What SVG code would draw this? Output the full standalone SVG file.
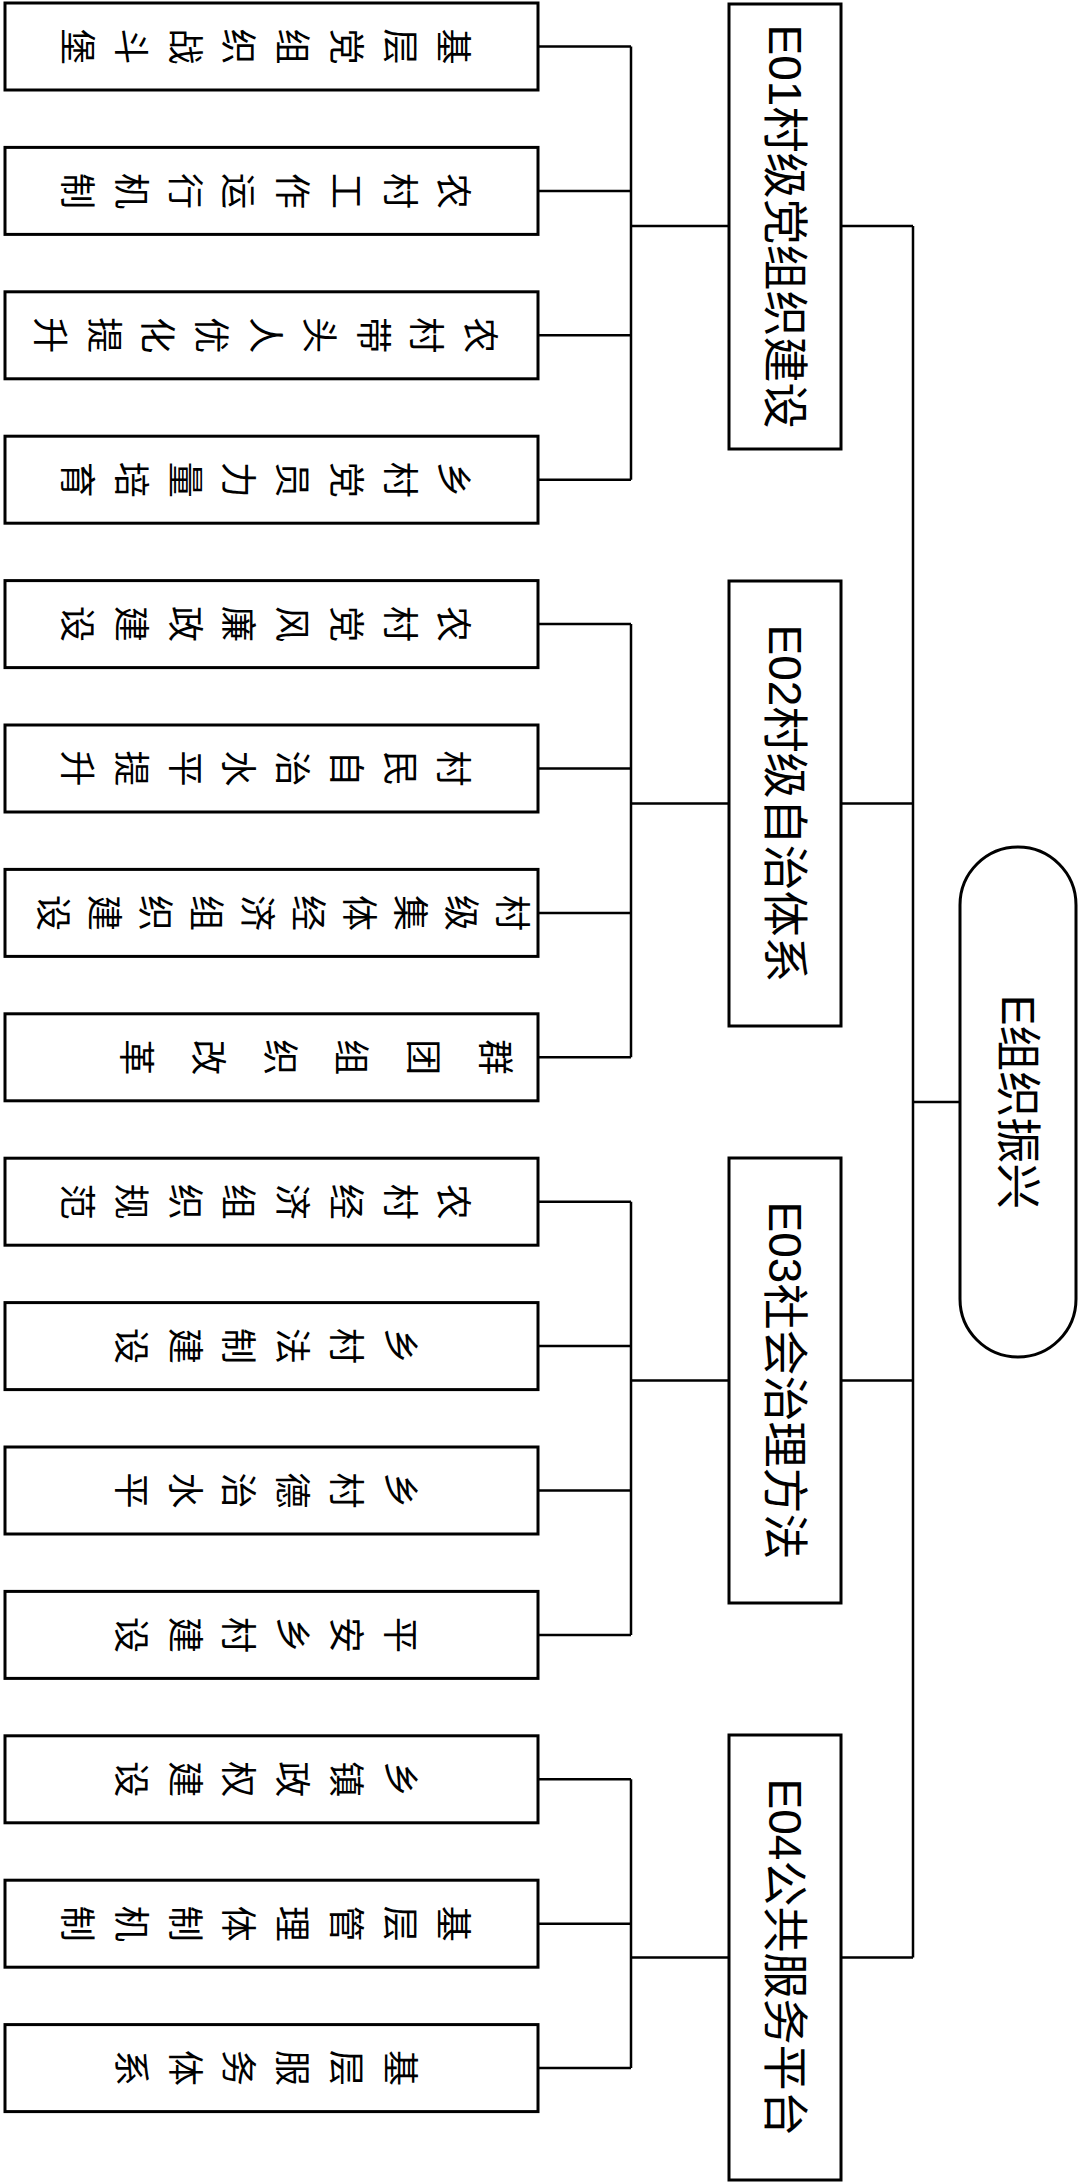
<svg xmlns="http://www.w3.org/2000/svg" width="1080" height="2183" viewBox="0 0 1080 2183">
<style>
.box{fill:#fff;stroke:#000;stroke-width:3}
.ln{fill:none;stroke:#000;stroke-width:2.5}
.lf{font-family:"Noto Sans CJK SC",sans-serif;font-size:36px;text-anchor:middle;dominant-baseline:central;fill:#000}
.md{font-family:"Liberation Sans","Noto Sans CJK SC",sans-serif;font-size:46px;text-anchor:middle;dominant-baseline:central;fill:#000}
</style>
<rect width="1080" height="2183" fill="#fff"/>
<g id="connectors" class="ln">
<path d="M913 226V1957.5M913 1102H960"/>
<path d="M841 226H913M841 803.5H913M841 1380.5H913M841 1957.5H913"/>
<path d="M631 226H729M631 803.5H729M631 1380.5H729M631 1957.5H729"/>
<path d="M631 46.5V479.7M631 624.1V1057.3M631 1201.7V1634.9M631 1779.3V2068.1"/>
<path d="M538 46.5H631M538 190.9H631M538 335.3H631M538 479.7H631M538 624.1H631M538 768.5H631M538 912.9H631M538 1057.3H631M538 1201.7H631M538 1346.1H631M538 1490.5H631M538 1634.9H631M538 1779.3H631M538 1923.7H631M538 2068.1H631"/>
</g>
<g id="n-root"><rect class="box" x="960" y="847" width="116" height="510" rx="58" ry="58"/><text class="md" transform="translate(1018 1102) rotate(90)">E组织振兴</text></g>
<g id="n-E01"><rect class="box" x="729" y="4" width="112" height="445"/><text class="md" transform="translate(785 226.5) rotate(90)">E01村级党组织建设</text></g>
<g id="n-E02"><rect class="box" x="729" y="581" width="112" height="445"/><text class="md" transform="translate(785 803.5) rotate(90)">E02村级自治体系</text></g>
<g id="n-E03"><rect class="box" x="729" y="1158" width="112" height="445"/><text class="md" transform="translate(785 1380.5) rotate(90)">E03社会治理方法</text></g>
<g id="n-E04"><rect class="box" x="729" y="1735" width="112" height="445"/><text class="md" transform="translate(785 1957.5) rotate(90)">E04公共服务平台</text></g>
<g id="n-L01"><rect class="box" x="5" y="3" width="533" height="87"/>
<text class="lf" x="456" y="46.5" transform="rotate(90 456 46.5)">基</text><text class="lf" x="402.5" y="46.5" transform="rotate(90 402.5 46.5)">层</text><text class="lf" x="349" y="46.5" transform="rotate(90 349 46.5)">党</text><text class="lf" x="295" y="46.5" transform="rotate(90 295 46.5)">组</text><text class="lf" x="241" y="46.5" transform="rotate(90 241 46.5)">织</text><text class="lf" x="187.5" y="46.5" transform="rotate(90 187.5 46.5)">战</text><text class="lf" x="133.5" y="46.5" transform="rotate(90 133.5 46.5)">斗</text><text class="lf" x="80" y="46.5" transform="rotate(90 80 46.5)">堡</text></g>
<g id="n-L02"><rect class="box" x="5" y="147.4" width="533" height="87"/>
<text class="lf" x="456" y="190.9" transform="rotate(90 456 190.9)">农</text><text class="lf" x="402.5" y="190.9" transform="rotate(90 402.5 190.9)">村</text><text class="lf" x="349" y="190.9" transform="rotate(90 349 190.9)">工</text><text class="lf" x="295" y="190.9" transform="rotate(90 295 190.9)">作</text><text class="lf" x="241" y="190.9" transform="rotate(90 241 190.9)">运</text><text class="lf" x="187.5" y="190.9" transform="rotate(90 187.5 190.9)">行</text><text class="lf" x="133.5" y="190.9" transform="rotate(90 133.5 190.9)">机</text><text class="lf" x="80" y="190.9" transform="rotate(90 80 190.9)">制</text></g>
<g id="n-L03"><rect class="box" x="5" y="291.8" width="533" height="87"/>
<text class="lf" x="483" y="335.3" transform="rotate(90 483 335.3)">农</text><text class="lf" x="429" y="335.3" transform="rotate(90 429 335.3)">村</text><text class="lf" x="376" y="335.3" transform="rotate(90 376 335.3)">带</text><text class="lf" x="322" y="335.3" transform="rotate(90 322 335.3)">头</text><text class="lf" x="268" y="335.3" transform="rotate(90 268 335.3)">人</text><text class="lf" x="214" y="335.3" transform="rotate(90 214 335.3)">优</text><text class="lf" x="160" y="335.3" transform="rotate(90 160 335.3)">化</text><text class="lf" x="107" y="335.3" transform="rotate(90 107 335.3)">提</text><text class="lf" x="53" y="335.3" transform="rotate(90 53 335.3)">升</text></g>
<g id="n-L04"><rect class="box" x="5" y="436.2" width="533" height="87"/>
<text class="lf" x="456" y="479.7" transform="rotate(90 456 479.7)">乡</text><text class="lf" x="402.5" y="479.7" transform="rotate(90 402.5 479.7)">村</text><text class="lf" x="349" y="479.7" transform="rotate(90 349 479.7)">党</text><text class="lf" x="295" y="479.7" transform="rotate(90 295 479.7)">员</text><text class="lf" x="241" y="479.7" transform="rotate(90 241 479.7)">力</text><text class="lf" x="187.5" y="479.7" transform="rotate(90 187.5 479.7)">量</text><text class="lf" x="133.5" y="479.7" transform="rotate(90 133.5 479.7)">培</text><text class="lf" x="80" y="479.7" transform="rotate(90 80 479.7)">育</text></g>
<g id="n-L05"><rect class="box" x="5" y="580.6" width="533" height="87"/>
<text class="lf" x="456" y="624.1" transform="rotate(90 456 624.1)">农</text><text class="lf" x="402.5" y="624.1" transform="rotate(90 402.5 624.1)">村</text><text class="lf" x="349" y="624.1" transform="rotate(90 349 624.1)">党</text><text class="lf" x="295" y="624.1" transform="rotate(90 295 624.1)">风</text><text class="lf" x="241" y="624.1" transform="rotate(90 241 624.1)">廉</text><text class="lf" x="187.5" y="624.1" transform="rotate(90 187.5 624.1)">政</text><text class="lf" x="133.5" y="624.1" transform="rotate(90 133.5 624.1)">建</text><text class="lf" x="80" y="624.1" transform="rotate(90 80 624.1)">设</text></g>
<g id="n-L06"><rect class="box" x="5" y="725" width="533" height="87"/>
<text class="lf" x="456" y="768.5" transform="rotate(90 456 768.5)">村</text><text class="lf" x="402.5" y="768.5" transform="rotate(90 402.5 768.5)">民</text><text class="lf" x="349" y="768.5" transform="rotate(90 349 768.5)">自</text><text class="lf" x="295" y="768.5" transform="rotate(90 295 768.5)">治</text><text class="lf" x="241" y="768.5" transform="rotate(90 241 768.5)">水</text><text class="lf" x="187.5" y="768.5" transform="rotate(90 187.5 768.5)">平</text><text class="lf" x="133.5" y="768.5" transform="rotate(90 133.5 768.5)">提</text><text class="lf" x="80" y="768.5" transform="rotate(90 80 768.5)">升</text></g>
<g id="n-L07"><rect class="box" x="5" y="869.4" width="533" height="87"/>
<text class="lf" x="514.5" y="912.9" transform="rotate(90 514.5 912.9)">村</text><text class="lf" x="463.5" y="912.9" transform="rotate(90 463.5 912.9)">级</text><text class="lf" x="412.5" y="912.9" transform="rotate(90 412.5 912.9)">集</text><text class="lf" x="361.5" y="912.9" transform="rotate(90 361.5 912.9)">体</text><text class="lf" x="310.5" y="912.9" transform="rotate(90 310.5 912.9)">经</text><text class="lf" x="259.5" y="912.9" transform="rotate(90 259.5 912.9)">济</text><text class="lf" x="208.5" y="912.9" transform="rotate(90 208.5 912.9)">组</text><text class="lf" x="157.5" y="912.9" transform="rotate(90 157.5 912.9)">织</text><text class="lf" x="106.5" y="912.9" transform="rotate(90 106.5 912.9)">建</text><text class="lf" x="55.5" y="912.9" transform="rotate(90 55.5 912.9)">设</text></g>
<g id="n-L08"><rect class="box" x="5" y="1013.8" width="533" height="87"/>
<text class="lf" x="498" y="1057.3" transform="rotate(90 498 1057.3)">群</text><text class="lf" x="426.2" y="1057.3" transform="rotate(90 426.2 1057.3)">团</text><text class="lf" x="354.4" y="1057.3" transform="rotate(90 354.4 1057.3)">组</text><text class="lf" x="282.6" y="1057.3" transform="rotate(90 282.6 1057.3)">织</text><text class="lf" x="210.8" y="1057.3" transform="rotate(90 210.8 1057.3)">改</text><text class="lf" x="139" y="1057.3" transform="rotate(90 139 1057.3)">革</text></g>
<g id="n-L09"><rect class="box" x="5" y="1158.2" width="533" height="87"/>
<text class="lf" x="456" y="1201.7" transform="rotate(90 456 1201.7)">农</text><text class="lf" x="402.5" y="1201.7" transform="rotate(90 402.5 1201.7)">村</text><text class="lf" x="349" y="1201.7" transform="rotate(90 349 1201.7)">经</text><text class="lf" x="295" y="1201.7" transform="rotate(90 295 1201.7)">济</text><text class="lf" x="241" y="1201.7" transform="rotate(90 241 1201.7)">组</text><text class="lf" x="187.5" y="1201.7" transform="rotate(90 187.5 1201.7)">织</text><text class="lf" x="133.5" y="1201.7" transform="rotate(90 133.5 1201.7)">规</text><text class="lf" x="80" y="1201.7" transform="rotate(90 80 1201.7)">范</text></g>
<g id="n-L10"><rect class="box" x="5" y="1302.6" width="533" height="87"/>
<text class="lf" x="402.5" y="1346.1" transform="rotate(90 402.5 1346.1)">乡</text><text class="lf" x="349" y="1346.1" transform="rotate(90 349 1346.1)">村</text><text class="lf" x="295" y="1346.1" transform="rotate(90 295 1346.1)">法</text><text class="lf" x="241" y="1346.1" transform="rotate(90 241 1346.1)">制</text><text class="lf" x="187.5" y="1346.1" transform="rotate(90 187.5 1346.1)">建</text><text class="lf" x="133.5" y="1346.1" transform="rotate(90 133.5 1346.1)">设</text></g>
<g id="n-L11"><rect class="box" x="5" y="1447" width="533" height="87"/>
<text class="lf" x="402.5" y="1490.5" transform="rotate(90 402.5 1490.5)">乡</text><text class="lf" x="349" y="1490.5" transform="rotate(90 349 1490.5)">村</text><text class="lf" x="295" y="1490.5" transform="rotate(90 295 1490.5)">德</text><text class="lf" x="241" y="1490.5" transform="rotate(90 241 1490.5)">治</text><text class="lf" x="187.5" y="1490.5" transform="rotate(90 187.5 1490.5)">水</text><text class="lf" x="133.5" y="1490.5" transform="rotate(90 133.5 1490.5)">平</text></g>
<g id="n-L12"><rect class="box" x="5" y="1591.4" width="533" height="87"/>
<text class="lf" x="402.5" y="1634.9" transform="rotate(90 402.5 1634.9)">平</text><text class="lf" x="349" y="1634.9" transform="rotate(90 349 1634.9)">安</text><text class="lf" x="295" y="1634.9" transform="rotate(90 295 1634.9)">乡</text><text class="lf" x="241" y="1634.9" transform="rotate(90 241 1634.9)">村</text><text class="lf" x="187.5" y="1634.9" transform="rotate(90 187.5 1634.9)">建</text><text class="lf" x="133.5" y="1634.9" transform="rotate(90 133.5 1634.9)">设</text></g>
<g id="n-L13"><rect class="box" x="5" y="1735.8" width="533" height="87"/>
<text class="lf" x="402.5" y="1779.3" transform="rotate(90 402.5 1779.3)">乡</text><text class="lf" x="349" y="1779.3" transform="rotate(90 349 1779.3)">镇</text><text class="lf" x="295" y="1779.3" transform="rotate(90 295 1779.3)">政</text><text class="lf" x="241" y="1779.3" transform="rotate(90 241 1779.3)">权</text><text class="lf" x="187.5" y="1779.3" transform="rotate(90 187.5 1779.3)">建</text><text class="lf" x="133.5" y="1779.3" transform="rotate(90 133.5 1779.3)">设</text></g>
<g id="n-L14"><rect class="box" x="5" y="1880.2" width="533" height="87"/>
<text class="lf" x="456" y="1923.7" transform="rotate(90 456 1923.7)">基</text><text class="lf" x="402.5" y="1923.7" transform="rotate(90 402.5 1923.7)">层</text><text class="lf" x="349" y="1923.7" transform="rotate(90 349 1923.7)">管</text><text class="lf" x="295" y="1923.7" transform="rotate(90 295 1923.7)">理</text><text class="lf" x="241" y="1923.7" transform="rotate(90 241 1923.7)">体</text><text class="lf" x="187.5" y="1923.7" transform="rotate(90 187.5 1923.7)">制</text><text class="lf" x="133.5" y="1923.7" transform="rotate(90 133.5 1923.7)">机</text><text class="lf" x="80" y="1923.7" transform="rotate(90 80 1923.7)">制</text></g>
<g id="n-L15"><rect class="box" x="5" y="2024.6" width="533" height="87"/>
<text class="lf" x="402.5" y="2068.1" transform="rotate(90 402.5 2068.1)">基</text><text class="lf" x="349" y="2068.1" transform="rotate(90 349 2068.1)">层</text><text class="lf" x="295" y="2068.1" transform="rotate(90 295 2068.1)">服</text><text class="lf" x="241" y="2068.1" transform="rotate(90 241 2068.1)">务</text><text class="lf" x="187.5" y="2068.1" transform="rotate(90 187.5 2068.1)">体</text><text class="lf" x="133.5" y="2068.1" transform="rotate(90 133.5 2068.1)">系</text></g>
</svg>
